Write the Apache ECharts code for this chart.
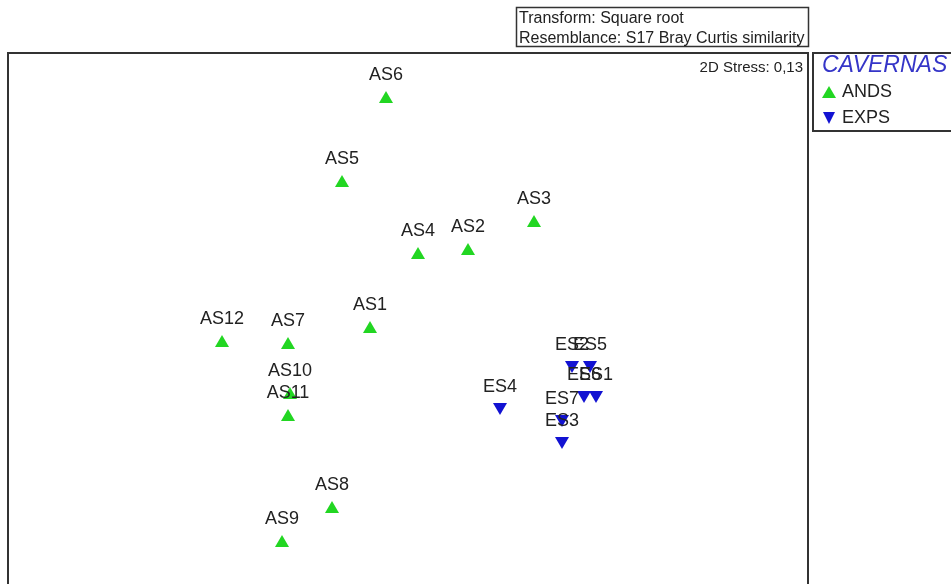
<!DOCTYPE html>
<html>
<head>
<meta charset="utf-8">
<script src="https://cdn.jsdelivr.net/npm/echarts@6/dist/echarts.min.js"></script>
<style>
  html, body { margin: 0; padding: 0; background: #fff; }
  #chart { width: 951px; height: 584px; }
</style>
</head>
<body>
<div id="chart"></div>
<script>
// nMDS ordination: sample labels and their 2D coordinates
const andsNames = ['AS1', 'AS2', 'AS3', 'AS4', 'AS5', 'AS6', 'AS7', 'AS8', 'AS9', 'AS10', 'AS11', 'AS12'];
const andsX = [-0.19, 0.30, 0.63, 0.05, -0.33, -0.11, -0.60, -0.38, -0.63, -0.59, -0.60, -0.93];
const andsY = [0.11, 0.50, 0.64, 0.48, 0.84, 1.26, 0.03, -0.79, -0.96, -0.22, -0.33, 0.04];

const expsNames = ['ES1', 'ES2', 'ES3', 'ES4', 'ES5', 'ES6', 'ES7'];
const expsX = [0.94, 0.82, 0.77, 0.46, 0.91, 0.88, 0.77];
const expsY = [-0.24, -0.09, -0.47, -0.30, -0.09, -0.24, -0.36];

const groupNames = ['ANDS', 'EXPS'];
const legendTitle = 'CAVERNAS';
const stressText = '2D Stress: 0,13';
const infoLines = ['Transform: Square root', 'Resemblance: S17 Bray Curtis similarity'];

const GREEN = '#22d622';
const BLUE = '#1212d2';
const FONT = '"Liberation Sans", Arial, sans-serif';
const DOWN_TRIANGLE = 'path://M0,0 L10,0 L5,10 Z';

function toPoints(names, xs, ys) {
  return names.map((n, i) => ({ name: n, value: [xs[i], ys[i]] }));
}

const labelStyle = {
  show: true,
  position: 'top',
  distance: 7,
  formatter: '{b}',
  fontFamily: FONT,
  fontSize: 18,
  color: '#222'
};

const chart = echarts.init(document.getElementById('chart'));
chart.setOption({
  animation: false,
  backgroundColor: '#fff',
  grid: { left: 8, top: 53, right: 143, bottom: 0, show: false },
  xAxis: { type: 'value', min: -2, max: 2, show: false },
  yAxis: { type: 'value', min: -1.175, max: 1.48, show: false },
  legend: {
    z: 20,
    orient: 'vertical',
    left: 817, top: 78,
    itemWidth: 14, itemHeight: 12, itemGap: 8,
    data: [
      { name: groupNames[0], icon: 'triangle' },
      { name: groupNames[1], icon: DOWN_TRIANGLE }
    ],
    textStyle: { fontFamily: FONT, fontSize: 18, color: '#222', padding: [0, 0, 0, 1] }
  },
  graphic: [
    // plot frame (open at the bottom edge of the canvas)
    {
      type: 'polyline', z: 1,
      shape: { points: [[8, 600], [8, 53], [808, 53], [808, 600]] },
      style: { stroke: '#333', lineWidth: 2, fill: null }
    },
    {
      type: 'rect', z: 1,
      shape: { x: 516.5, y: 7.5, width: 292, height: 39 },
      style: { fill: '#fff', stroke: '#333', lineWidth: 1.5 }
    },
    {
      type: 'text', z: 2, left: 519, top: 9,
      style: { text: infoLines.join('\n'), font: '16px ' + FONT, fill: '#222', lineHeight: 20 }
    },
    {
      type: 'rect', z: 1,
      shape: { x: 813, y: 53, width: 150, height: 78 },
      style: { fill: '#fff', stroke: '#333', lineWidth: 2 }
    },
    {
      type: 'text', z: 2, left: 822, top: 54,
      style: { text: legendTitle, font: 'italic 23px ' + FONT, fill: '#3535c8' }
    },
    {
      type: 'text', z: 2, right: 148, top: 60,
      style: { text: stressText, font: '15px ' + FONT, fill: '#222', align: 'right' }
    }
  ],
  series: [
    {
      name: groupNames[0],
      type: 'scatter',
      symbol: 'triangle',
      symbolSize: [14, 12],
      itemStyle: { color: GREEN, opacity: 1 },
      label: labelStyle,
      data: toPoints(andsNames, andsX, andsY)
    },
    {
      name: groupNames[1],
      type: 'scatter',
      symbol: DOWN_TRIANGLE,
      symbolSize: [14, 12],
      itemStyle: { color: BLUE, opacity: 1 },
      label: labelStyle,
      data: toPoints(expsNames, expsX, expsY)
    }
  ]
});
</script>
</body>
</html>
